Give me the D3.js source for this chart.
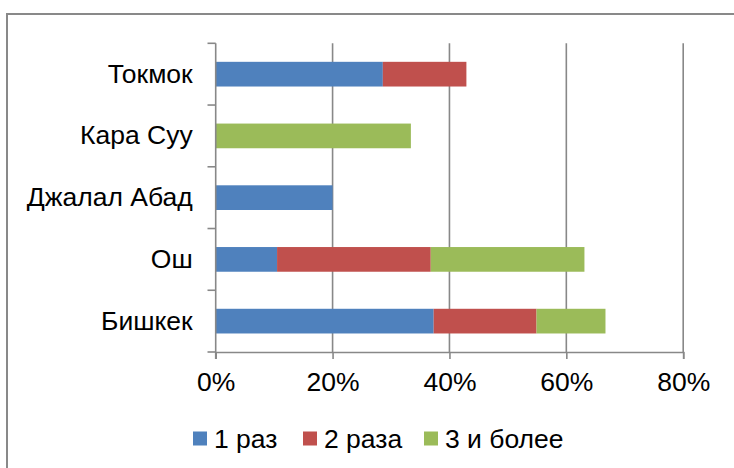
<!DOCTYPE html>
<html><head><meta charset="utf-8">
<script src="https://cdn.jsdelivr.net/npm/d3@7"></script>
<style>body{margin:0;background:#fff}svg{display:block}text{font-family:"Liberation Sans",Arial,sans-serif;fill:#000}</style>
</head><body><svg id="c" width="734" height="468"></svg>
<script>
const categories = ["Токмок","Кара Суу","Джалал Абад","Ош","Бишкек"];
const seriesNames = ["1 раз","2 раза","3 и более"];
const once = [0.286, 0, 0.200, 0.105, 0.373];
const twice = [0.143, 0, 0, 0.263, 0.176];
const threePlus = [0, 0.334, 0, 0.263, 0.118];
const xTicks = [0, 0.2, 0.4, 0.6, 0.8];
const colors = ["#4F81BD","#C0504D","#9BBB59"];

const svg = d3.select("#c");
svg.append("rect").attr("x",7).attr("y",14).attr("width",760).attr("height",480)
  .attr("fill","#fff").attr("stroke","#898989").attr("stroke-width",2);

const x = d3.scaleLinear().domain([0,0.8]).range([215.7,683.2]);
const y = d3.scaleBand().domain(categories).range([43.3,352]).paddingInner(0.6).paddingOuter(0.3);

const rows = categories.map((c,i)=>({cat:c,"1 раз":once[i],"2 раза":twice[i],"3 и более":threePlus[i]}));
const stack = d3.stack().keys(seriesNames)(rows);

// gridlines
svg.append("g").selectAll("line").data(xTicks.slice(1)).join("line")
  .attr("x1",d=>x(d)).attr("x2",d=>x(d)).attr("y1",43.3).attr("y2",352)
  .attr("stroke","#888").attr("stroke-width",1.6);

// bars
svg.append("g").selectAll("g").data(stack).join("g").attr("fill",(d,i)=>colors[i])
  .selectAll("rect").data(d=>d.filter(p=>p[1]-p[0]>0)).join("rect")
  .attr("x",d=>x(d[0])).attr("width",d=>x(d[1])-x(d[0]))
  .attr("y",d=>y(d.data.cat)).attr("height",y.bandwidth());

const FS = 26.5;
// x axis
const xa = svg.append("g").attr("transform","translate(0,352)")
  .call(d3.axisBottom(x).tickValues(xTicks).tickFormat(d3.format(".0%")).tickSize(7).tickPadding(13));
xa.select(".domain").attr("stroke","#888").attr("stroke-width",1.6);
xa.selectAll(".tick line").attr("stroke","#888").attr("stroke-width",1.6);
xa.selectAll("text").attr("font-size",FS).attr("fill","#000").attr("font-family","Liberation Sans, Arial, sans-serif");

// y axis
const ya = svg.append("g").attr("transform","translate(215.7,0)")
  .call(d3.axisLeft(y).tickSize(0).tickPadding(23));
ya.select(".domain").remove();
ya.selectAll("text").attr("font-size",FS).attr("fill","#000").attr("font-family","Liberation Sans, Arial, sans-serif");
const bounds = d3.range(categories.length+1).map(i=>y.range()[0]+i*(y.range()[1]-y.range()[0])/categories.length);
svg.append("line").attr("x1",x(0)).attr("x2",x(0)).attr("y1",43.3).attr("y2",359)
  .attr("stroke","#888").attr("stroke-width",1.6);
svg.append("g").selectAll("line").data(bounds).join("line")
  .attr("x1",207.5).attr("x2",x(0)).attr("y1",d=>d).attr("y2",d=>d)
  .attr("stroke","#888").attr("stroke-width",1.6);

// legend
const lx = [193, 303, 424];
const lg = svg.append("g").selectAll("g").data(seriesNames).join("g")
  .attr("transform",(d,i)=>`translate(${lx[i]},0)`);
lg.append("rect").attr("x",0).attr("y",431.5).attr("width",14).attr("height",14).attr("fill",(d,i)=>colors[i]);
lg.append("text").attr("x",21).attr("y",448.3).attr("font-size",FS).text(d=>d);
</script></body></html>
